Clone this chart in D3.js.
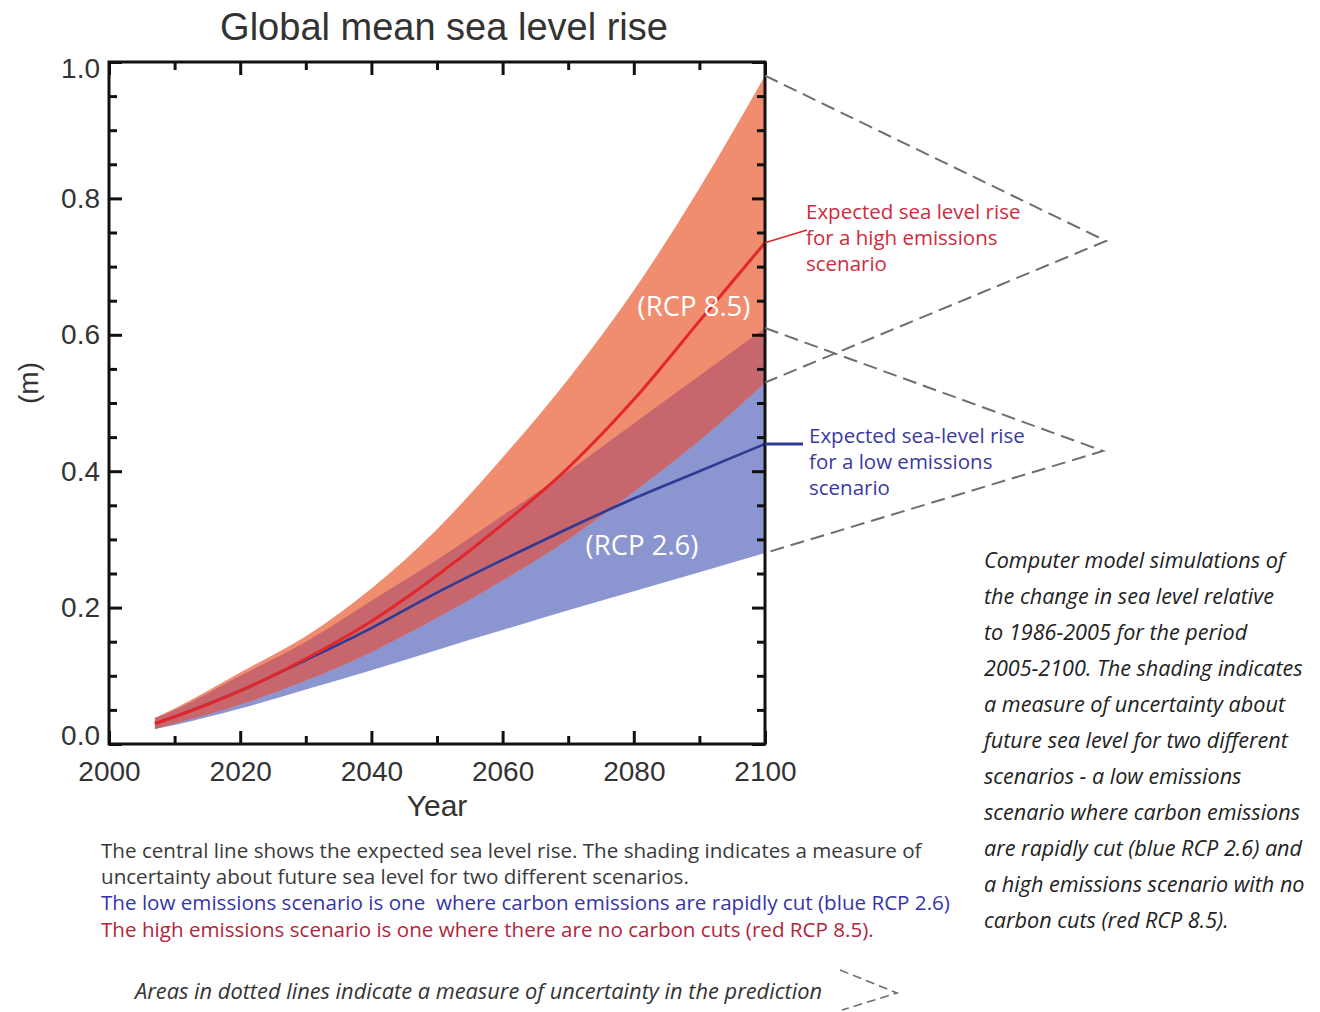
<!DOCTYPE html>
<html>
<head>
<meta charset="utf-8">
<script src="https://cdn.jsdelivr.net/npm/d3@7"></script>
<style>
  html, body { margin: 0; padding: 0; background: #fff; }
  svg { display: block; }
  text { white-space: pre; }
</style>
</head>
<body>
<svg id="chart" width="1320" height="1012"></svg>
<script>
// Projected global mean sea level rise (m), relative to 1986-2005
const years      = [2007, 2010, 2020, 2030, 2040, 2050, 2060, 2070, 2080, 2090, 2100];
const rcp85Mean  = [0.030, 0.040, 0.078, 0.125, 0.180, 0.247, 0.322, 0.405, 0.505, 0.620, 0.735];
const rcp85High  = [0.038, 0.052, 0.105, 0.158, 0.228, 0.315, 0.420, 0.535, 0.665, 0.815, 0.980];
const rcp85Low   = [0.022, 0.030, 0.058, 0.093, 0.135, 0.185, 0.240, 0.300, 0.370, 0.445, 0.530];
const rcp26Mean  = [0.030, 0.040, 0.078, 0.123, 0.170, 0.222, 0.270, 0.316, 0.360, 0.400, 0.440];
const rcp26High  = [0.038, 0.050, 0.100, 0.150, 0.210, 0.270, 0.335, 0.400, 0.470, 0.540, 0.610];
const rcp26Low   = [0.022, 0.028, 0.052, 0.080, 0.108, 0.138, 0.167, 0.196, 0.224, 0.252, 0.280];

const xTicks      = [2000, 2020, 2040, 2060, 2080, 2100];
const xMinorTicks = [2010, 2030, 2050, 2070, 2090];
const yTicks      = [0.0, 0.2, 0.4, 0.6, 0.8, 1.0];
const yMinorTicks = [0.05, 0.1, 0.15, 0.25, 0.3, 0.35, 0.45, 0.5, 0.55, 0.65, 0.7, 0.75, 0.85, 0.9, 0.95];

const chartTitle = "Global mean sea level rise";
const xTitle = "Year";
const yTitle = "(m)";
const highLabel = "(RCP 8.5)";
const lowLabel = "(RCP 2.6)";
const highNote = ["Expected sea level rise", "for a high emissions", "scenario"];
const lowNote = ["Expected sea-level rise", "for a low emissions", "scenario"];
const captionLines = [
  {text: "The central line shows the expected sea level rise. The shading indicates a measure of", color: "#3a3a3a"},
  {text: "uncertainty about future sea level for two different scenarios.", color: "#3a3a3a"},
  {text: "The low emissions scenario is one  where carbon emissions are rapidly cut (blue RCP 2.6)", color: "#3535a8"},
  {text: "The high emissions scenario is one where there are no carbon cuts (red RCP 8.5).", color: "#b3253b"}
];
const dottedNote = "Areas in dotted lines indicate a measure of uncertainty in the prediction";
const sideNote = [
  "Computer model simulations of",
  "the change in sea level relative",
  "to 1986-2005 for the period",
  "2005-2100. The shading indicates",
  "a measure of uncertainty about",
  "future sea level for two different",
  "scenarios - a low emissions",
  "scenario where carbon emissions",
  "are rapidly cut (blue RCP 2.6) and",
  "a high emissions scenario with no",
  "carbon cuts (red RCP 8.5)."
];

const C = {
  orange: "#f08d6e",
  overlap: "#c8666d",
  blue: "#8b95cf",
  redLine: "#e3262b",
  blueLine: "#2e3a94",
  redText: "#cf2b3e",
  blueText: "#3b399f",
  dash: "#6e6e6e",
  axis: "#111",
  label: "#333"
};

const svg = d3.select("#chart");
svg.append("rect").attr("width", 1320).attr("height", 1012).attr("fill", "#fff");

const x = d3.scaleLinear().domain([2000, 2100]).range([109, 765]);
const y = d3.scaleLinear().domain([0, 1]).range([744, 62]);

const rows = years.map((yr, i) => ({
  yr,
  m85: rcp85Mean[i], hi85: rcp85High[i], lo85: rcp85Low[i],
  m26: rcp26Mean[i], hi26: rcp26High[i], lo26: rcp26Low[i]
}));

const curve = d3.curveMonotoneX;
const band = (lo, hi) => d3.area().curve(curve)
  .x(d => x(d.yr)).y0(d => y(lo(d))).y1(d => y(hi(d)));

const g = svg.append("g");

// uncertainty ranges
g.append("path").datum(rows).attr("fill", C.blue)
  .attr("d", band(d => d.lo26, d => d.hi26));
g.append("path").datum(rows).attr("fill", C.orange)
  .attr("d", band(d => d.lo85, d => d.hi85));
// region where both ranges agree
g.append("path").datum(rows).attr("fill", C.overlap)
  .attr("d", band(d => Math.max(d.lo26, d.lo85), d => Math.min(d.hi26, d.hi85)));

// central projections
const line = acc => d3.line().curve(curve).x(d => x(d.yr)).y(d => y(acc(d)));
g.append("path").datum(rows).attr("fill", "none").attr("stroke", C.blueLine)
  .attr("stroke-width", 2.6).attr("d", line(d => d.m26));
g.append("path").datum(rows).attr("fill", "none").attr("stroke", C.redLine)
  .attr("stroke-width", 3).attr("d", line(d => d.m85));

// in-plot scenario labels
g.append("text").attr("x", 694).attr("y", 316).attr("text-anchor", "middle")
  .attr("font-family", "Open Sans").attr("font-size", 27.5).attr("fill", "#fff")
  .text(highLabel);
g.append("text").attr("x", 642).attr("y", 555).attr("text-anchor", "middle")
  .attr("font-family", "Open Sans").attr("font-size", 27.5).attr("fill", "#fff")
  .text(lowLabel);

// axes: major and minor ticks on all four sides, pointing inwards
const ax = svg.append("g").attr("font-family", "Liberation Sans, Arial, sans-serif");
function styleAxis(sel, showLabels) {
  sel.select(".domain").remove();
  sel.selectAll(".tick line").attr("stroke", C.axis).attr("stroke-width", 3);
  if (!showLabels) sel.selectAll(".tick text").remove();
  else sel.selectAll(".tick text").attr("fill", C.label).attr("font-size", 28);
}
const MAJ = -13, MIN = -8;
ax.append("g").attr("transform", `translate(0,${y(0)})`)
  .call(d3.axisBottom(x).tickValues(xTicks).tickSize(MAJ).tickPadding(17).tickFormat(d3.format("d")))
  .call(s => styleAxis(s, true));
ax.append("g").attr("transform", `translate(0,${y(0)})`)
  .call(d3.axisBottom(x).tickValues(xMinorTicks).tickSize(MIN))
  .call(s => styleAxis(s, false));
ax.append("g").attr("transform", `translate(0,${y(1)})`)
  .call(d3.axisTop(x).tickValues(xTicks).tickSize(MAJ))
  .call(s => styleAxis(s, false));
ax.append("g").attr("transform", `translate(0,${y(1)})`)
  .call(d3.axisTop(x).tickValues(xMinorTicks).tickSize(MIN))
  .call(s => styleAxis(s, false));
const leftAxis = ax.append("g").attr("transform", `translate(${x(2000)},0)`)
  .call(d3.axisLeft(y).tickValues(yTicks).tickSize(MAJ).tickPadding(9).tickFormat(d3.format(".1f")))
  .call(s => styleAxis(s, true));
// keep the end labels inside the frame height
leftAxis.selectAll(".tick text").attr("dy", d => d === 0 ? "-0.0em" : d === 1 ? "0.55em" : "0.32em");
ax.append("g").attr("transform", `translate(${x(2000)},0)`)
  .call(d3.axisLeft(y).tickValues(yMinorTicks).tickSize(MIN))
  .call(s => styleAxis(s, false));
ax.append("g").attr("transform", `translate(${x(2100)},0)`)
  .call(d3.axisRight(y).tickValues(yTicks).tickSize(MAJ))
  .call(s => styleAxis(s, false));
ax.append("g").attr("transform", `translate(${x(2100)},0)`)
  .call(d3.axisRight(y).tickValues(yMinorTicks).tickSize(MIN))
  .call(s => styleAxis(s, false));

// frame
svg.append("rect").attr("x", x(2000)).attr("y", y(1))
  .attr("width", x(2100) - x(2000)).attr("height", y(0) - y(1))
  .attr("fill", "none").attr("stroke", C.axis).attr("stroke-width", 3);

// titles
svg.append("text").attr("x", 444).attr("y", 40).attr("text-anchor", "middle")
  .attr("font-family", "Liberation Sans, Arial, sans-serif").attr("font-size", 38)
  .attr("fill", "#333").text(chartTitle);
svg.append("text").attr("x", 437).attr("y", 816).attr("text-anchor", "middle")
  .attr("font-family", "Liberation Sans, Arial, sans-serif").attr("font-size", 30)
  .attr("fill", "#333").text(xTitle);
svg.append("text").attr("transform", "translate(38,383) rotate(-90)").attr("text-anchor", "middle")
  .attr("font-family", "Liberation Sans, Arial, sans-serif").attr("font-size", 28)
  .attr("fill", "#333").text(yTitle);

// dashed brackets marking the 2100 ranges
const last = rows[rows.length - 1];
const dashed = d3.line();
svg.append("path").attr("fill", "none").attr("stroke", C.dash).attr("stroke-width", 2)
  .attr("stroke-dasharray", "14 7")
  .attr("d", dashed([[x(2100), y(last.hi85)], [1106, 241], [x(2100), y(last.lo85)]]));
svg.append("path").attr("fill", "none").attr("stroke", C.dash).attr("stroke-width", 2)
  .attr("stroke-dasharray", "14 7")
  .attr("d", dashed([[x(2100), y(last.hi26)], [1103, 451], [x(2100), y(last.lo26)]]));

// leaders and notes for the central lines
svg.append("line").attr("x1", x(2100)).attr("y1", y(last.m85)).attr("x2", 807).attr("y2", 230)
  .attr("stroke", C.redLine).attr("stroke-width", 1.6);
svg.append("line").attr("x1", x(2100)).attr("y1", y(last.m26)).attr("x2", 803).attr("y2", y(last.m26))
  .attr("stroke", C.blueLine).attr("stroke-width", 3);

const noteFont = "Open Sans, sans-serif";
svg.append("g").selectAll("text").data(highNote).join("text")
  .attr("x", 806).attr("y", (d, i) => 219 + i * 26)
  .attr("font-family", noteFont).attr("font-size", 20.5).attr("fill", C.redText).text(d => d);
svg.append("g").selectAll("text").data(lowNote).join("text")
  .attr("x", 809).attr("y", (d, i) => 443 + i * 26)
  .attr("font-family", noteFont).attr("font-size", 20.5).attr("fill", C.blueText).text(d => d);

// caption below the chart
svg.append("g").selectAll("text").data(captionLines).join("text")
  .attr("x", 101).attr("y", (d, i) => 858 + i * 26.2)
  .attr("font-family", noteFont).attr("font-size", 20.6).attr("fill", d => d.color).text(d => d.text);

svg.append("text").attr("x", 135).attr("y", 999)
  .attr("font-family", noteFont).attr("font-style", "italic").attr("font-size", 21.8)
  .attr("fill", "#333").text(dottedNote);
svg.append("path").attr("fill", "none").attr("stroke", C.dash).attr("stroke-width", 1.6)
  .attr("stroke-dasharray", "9 5")
  .attr("d", dashed([[840, 970], [897, 993], [842, 1010]]));

// side note
svg.append("g").selectAll("text").data(sideNote).join("text")
  .attr("x", 984).attr("y", (d, i) => 568 + i * 36)
  .attr("font-family", noteFont).attr("font-style", "italic").attr("font-size", 21.6)
  .attr("fill", "#222").text(d => d);
</script>
</body>
</html>
